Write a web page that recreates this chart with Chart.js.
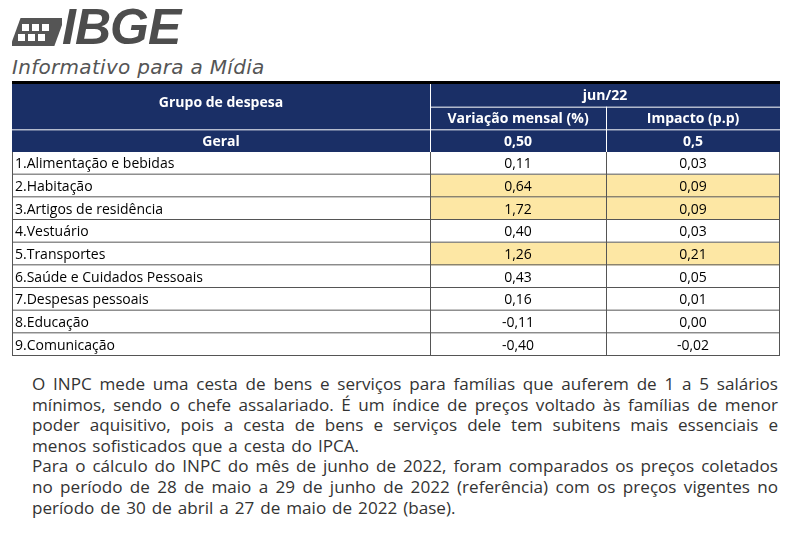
<!DOCTYPE html>
<html><head><meta charset="utf-8">
<script src="https://cdn.jsdelivr.net/npm/chart.js@4.4.1/dist/chart.umd.min.js"></script>
<style>
body{margin:0;background:#fff;width:800px;height:541px;position:relative;overflow:hidden;font-family:"Open Sans",sans-serif}
#logo{position:absolute;left:12px;top:14px}
#logo .t{position:absolute;left:50px;top:-16px;font:italic 900 50px "Liberation Sans",sans-serif;color:#4d4d4d;letter-spacing:-1px}
#sub{position:absolute;left:12px;top:55px;font:italic 20px "DejaVu Sans",sans-serif;color:#555;letter-spacing:0.3px}
#rule{position:absolute;left:12px;top:81px;width:768px;height:3px;background:#000}
#wrap{position:absolute;left:12px;top:84px;width:768px;height:272px}
#txt{position:absolute;left:32px;top:374px;width:746px;font:17.1px "Open Sans",sans-serif;line-height:20.6px;color:#333;text-align:justify;word-spacing:1.5px}
</style></head><body>
<div id="logo"><svg width="50" height="36" viewBox="0 0 50 36"><g fill="#555">
<rect x="0" y="4" width="44" height="28" transform="skewX(-20) translate(10,0)"/></g>
<g fill="#fff"><rect x="10" y="10" width="7" height="7"/><rect x="20" y="10" width="7" height="7"/><rect x="30" y="10" width="7" height="7"/>
<rect x="6" y="20" width="7" height="7"/><rect x="16" y="20" width="7" height="7"/><rect x="26" y="20" width="7" height="7"/></g></svg><span class="t">IBGE</span></div>
<div id="sub">Informativo para a Mídia</div>
<div id="rule"></div>
<div id="wrap"><canvas id="c"></canvas></div>
<div id="txt">O INPC mede uma cesta de bens e serviços para famílias que auferem de 1 a 5 salários mínimos, sendo o chefe assalariado. É um índice de preços voltado às famílias de menor poder aquisitivo, pois a cesta de bens e serviços dele tem subitens mais essenciais e menos sofisticados que a cesta do IPCA.<br>Para o cálculo do INPC do mês de junho de 2022, foram comparados os preços coletados no período de 28 de maio a 29 de junho de 2022 (referência) com os preços vigentes no período de 30 de abril a 27 de maio de 2022 (base).</div>
<script>
var grupos = ["1.Alimentação e bebidas","2.Habitação","3.Artigos de residência","4.Vestuário","5.Transportes","6.Saúde e Cuidados Pessoais","7.Despesas pessoais","8.Educação","9.Comunicação"];
var variacao = ["0,11","0,64","1,72","0,40","1,26","0,43","0,16","-0,11","-0,40"];
var impacto = ["0,03","0,09","0,09","0,03","0,21","0,05","0,01","0,00","-0,02"];
var destaque = [false,true,true,false,true,false,false,false,false];
var geral = ["Geral","0,50","0,5"];
var cabecalho = ["Grupo de despesa","jun/22","Variação mensal (%)","Impacto (p.p)"];

var navy = "#1a2f66", yellow = "#fde7a4";
var tablePlugin = {
  id: "table",
  afterDraw: function (chart) {
    var ctx = chart.ctx, x = chart.scales.x, y = chart.scales.y;
    var cx = [x.getPixelForValue(0), x.getPixelForValue(418), x.getPixelForValue(594), x.getPixelForValue(768)];
    function ry(r) { return y.getPixelForValue(r); }
    function text(s, x0, x1, r0, r1, color, bold, align) {
      ctx.fillStyle = color;
      ctx.font = (bold ? "bold " : "") + "14px 'Open Sans', sans-serif";
      ctx.textBaseline = "middle";
      ctx.textAlign = align || "center";
      var px = align === "left" ? x0 + 3 : (x0 + x1) / 2;
      ctx.fillText(s, px, (ry(r0) + ry(r1)) / 2 + 1);
    }
    ctx.save();
    ctx.fillStyle = navy;
    ctx.fillRect(cx[0], ry(0), cx[3] - cx[0], ry(3) - ry(0));
    destaque.forEach(function (d, i) {
      if (!d) return;
      ctx.fillStyle = yellow;
      ctx.fillRect(cx[1], ry(i + 3), cx[3] - cx[1], ry(i + 4) - ry(i + 3));
    });
    ctx.strokeStyle = "#fff"; ctx.lineWidth = 1;
    ctx.beginPath();
    ctx.moveTo(cx[1] + 0.5, ry(0)); ctx.lineTo(cx[1] + 0.5, ry(3));
    ctx.moveTo(cx[2] + 0.5, ry(1)); ctx.lineTo(cx[2] + 0.5, ry(3));
    ctx.moveTo(cx[1], ry(1) + 0.5); ctx.lineTo(cx[3], ry(1) + 0.5);
    ctx.moveTo(cx[0], ry(2) + 0.5); ctx.lineTo(cx[3], ry(2) + 0.5);
    ctx.stroke();
    ctx.strokeStyle = "#555";
    ctx.beginPath();
    for (var r = 4; r <= 12; r++) { ctx.moveTo(cx[0], ry(r) - 0.5); ctx.lineTo(cx[3], ry(r) - 0.5); }
    [0, 1, 2, 3].forEach(function (k) {
      var xx = k === 3 ? cx[k] - 0.5 : cx[k] + 0.5;
      ctx.moveTo(xx, ry(3)); ctx.lineTo(xx, ry(12));
    });
    ctx.stroke();
    text(cabecalho[0], cx[0], cx[1], 0, 1.6, "#fff", true);
    text(cabecalho[1], cx[1], cx[3], 0, 1, "#fff", true);
    text(cabecalho[2], cx[1], cx[2], 1, 2, "#fff", true);
    text(cabecalho[3], cx[2], cx[3], 1, 2, "#fff", true);
    text(geral[0], cx[0], cx[1], 2, 3, "#fff", true);
    text(geral[1], cx[1], cx[2], 2, 3, "#fff", true);
    text(geral[2], cx[2], cx[3], 2, 3, "#fff", true);
    grupos.forEach(function (g, i) {
      text(g, cx[0], cx[1], i + 3, i + 4, "#000", false, "left");
      text(variacao[i], cx[1], cx[2], i + 3, i + 4, "#000");
      text(impacto[i], cx[2], cx[3], i + 3, i + 4, "#000");
    });
    ctx.restore();
  }
};

new Chart(document.getElementById("c"), {
  type: "scatter",
  data: { datasets: [{ data: [] }] },
  options: {
    responsive: true, maintainAspectRatio: false, animation: false, devicePixelRatio: 1,
    layout: { padding: 0 },
    plugins: { legend: { display: false }, tooltip: { enabled: false } },
    scales: {
      x: { type: "linear", min: 0, max: 768, display: false },
      y: { type: "linear", min: 0, max: 12, reverse: true, display: false }
    }
  },
  plugins: [tablePlugin]
});
</script>
</body></html>
